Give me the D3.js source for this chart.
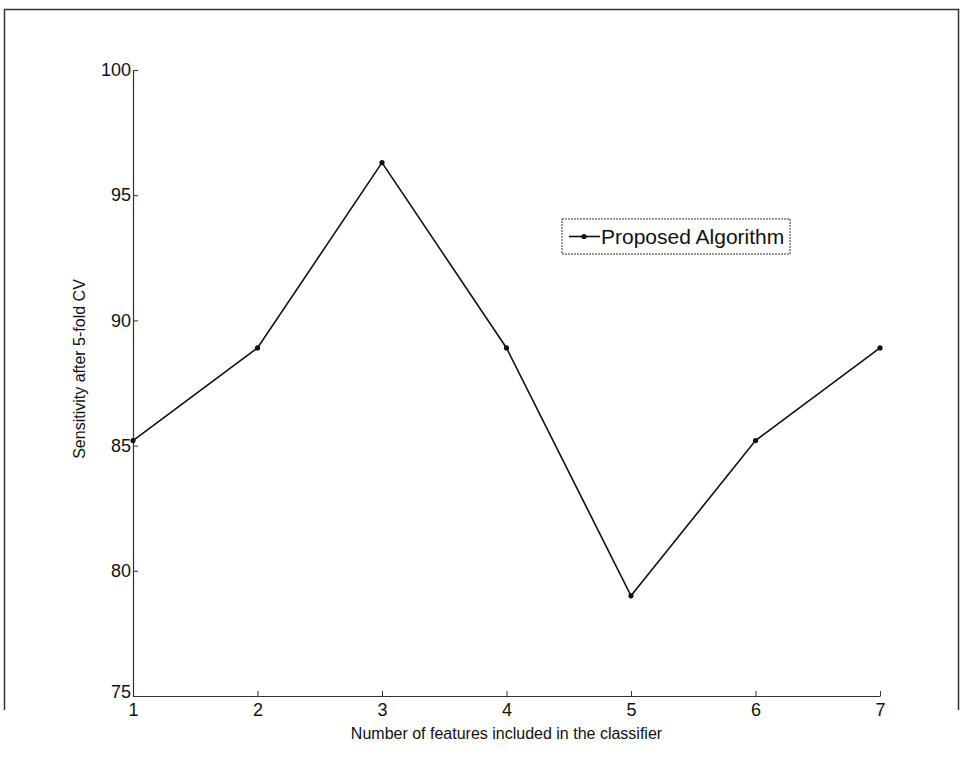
<!DOCTYPE html>
<html>
<head>
<meta charset="utf-8">
<script src="https://cdn.jsdelivr.net/npm/d3@7"></script>
<style>
  body { margin: 0; background: #fff; }
  text { font-family: "Liberation Sans", Arial, sans-serif; fill: #111; }
</style>
</head>
<body>
<div id="chart"></div>
<script>
// data
var features = [1, 2, 3, 4, 5, 6, 7];
var sensitivity = [85.2, 88.9, 96.3, 88.9, 79.0, 85.2, 88.9];
var yTicks = [75, 80, 85, 90, 95, 100];
var seriesName = "Proposed Algorithm";

var W = 962, H = 775;
var margin = {top: 70, right: 82, bottom: 79, left: 133},
    width = W - margin.left - margin.right,
    height = H - margin.top - margin.bottom;

var svg = d3.select("#chart").append("svg")
    .attr("width", W)
    .attr("height", H);

// scanned page frame
svg.append("path")
    .attr("d", "M4.5,710 L4.5,9.5 L958.5,9.5 L958.5,710")
    .attr("fill", "none")
    .attr("stroke", "#333")
    .attr("stroke-width", 1.5);

var g = svg.append("g")
    .attr("transform", "translate(" + margin.left + "," + margin.top + ")");

var x = d3.scaleLinear().domain([1, 7]).range([0, width]);
var y = d3.scaleLinear().domain([75, 100]).range([height, 0]);

// x axis, ticks pointing inward
var xAxis = g.append("g")
    .attr("transform", "translate(0," + height + ")")
    .call(d3.axisBottom(x).tickValues(features).tickFormat(d3.format("d")).tickSizeInner(-5).tickSizeOuter(0).tickPadding(7));

// y axis, ticks pointing inward
var yAxis = g.append("g")
    .call(d3.axisLeft(y).tickValues(yTicks).tickSizeInner(-5).tickSizeOuter(0).tickPadding(2));

[xAxis, yAxis].forEach(function(a) {
  a.select(".domain").attr("stroke", "#333").attr("stroke-width", 1.2);
  a.selectAll("line").attr("stroke", "#333");
  a.selectAll("text").style("font-size", "18px").attr("fill", "#111");
});
// lowest y label sits a little higher, as in the reference
yAxis.selectAll(".tick text").filter(function(d) { return d === 75; }).attr("dy", "0.1em");

// the series
var line = d3.line()
    .x(function(d, i) { return x(features[i]); })
    .y(function(d) { return y(d); });

g.append("path")
    .datum(sensitivity)
    .attr("fill", "none")
    .attr("stroke", "#111")
    .attr("stroke-width", 1.6)
    .attr("d", line);

g.selectAll(".pt")
    .data(sensitivity)
    .enter().append("circle")
    .attr("class", "pt")
    .attr("cx", function(d, i) { return x(features[i]); })
    .attr("cy", function(d) { return y(d); })
    .attr("r", 2.6)
    .attr("fill", "#111");

// axis labels
svg.append("text")
    .attr("x", margin.left + width / 2)
    .attr("y", 739)
    .attr("text-anchor", "middle")
    .style("font-size", "16px")
    .text("Number of features included in the classifier");

svg.append("text")
    .attr("transform", "translate(85," + (margin.top + height / 2 - 14) + ") rotate(-90)")
    .attr("text-anchor", "middle")
    .style("font-size", "16px")
    .text("Sensitivity after 5-fold CV");

// legend
var lg = svg.append("g").attr("transform", "translate(562,219)");
lg.append("rect")
    .attr("width", 228).attr("height", 35)
    .attr("fill", "#fff")
    .attr("stroke", "#333")
    .attr("stroke-width", 1)
    .attr("stroke-dasharray", "2,1");
lg.append("line")
    .attr("x1", 7).attr("x2", 38).attr("y1", 17.5).attr("y2", 17.5)
    .attr("stroke", "#111").attr("stroke-width", 1.6);
lg.append("circle")
    .attr("cx", 22).attr("cy", 17.5).attr("r", 2.6).attr("fill", "#111");
lg.append("text")
    .attr("x", 39).attr("y", 25)
    .style("font-size", "21px")
    .text(seriesName);
</script>
</body>
</html>
